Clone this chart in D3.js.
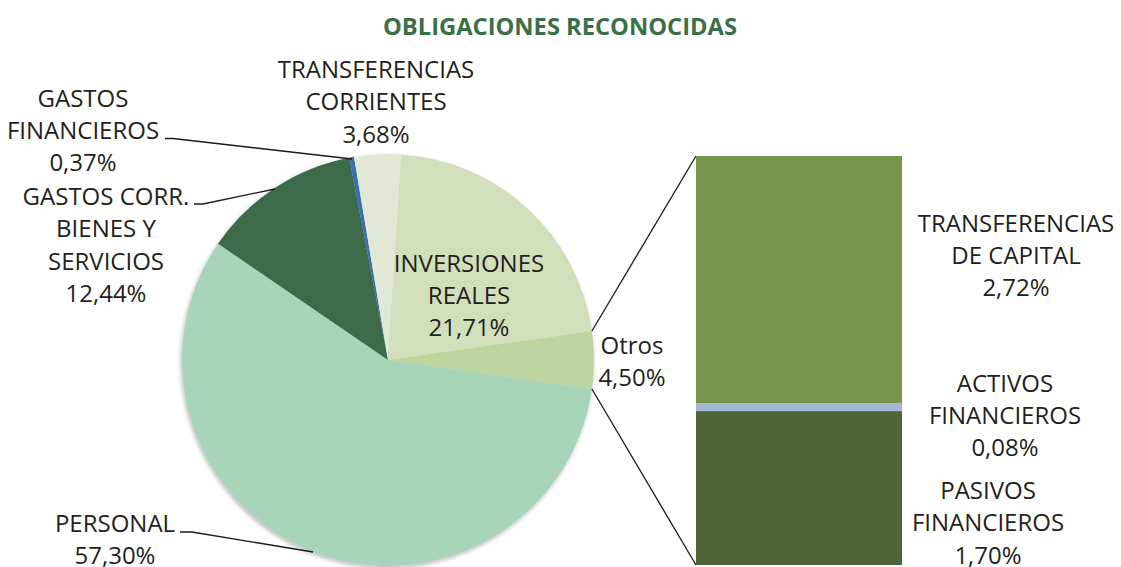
<!DOCTYPE html>
<html>
<head>
<meta charset="utf-8">
<script src="https://cdn.jsdelivr.net/npm/d3@7"></script>
<style>
  html, body { margin: 0; padding: 0; background: #ffffff; }
  svg { display: block; }
  text { font-family: "Open Sans", "Noto Sans", sans-serif; fill: #231f20; }
</style>
</head>
<body>
<script>
// ---- Data ----
const title = "OBLIGACIONES RECONOCIDAS";

// Pie slices, in clockwise order starting with the "Otros" slice
const pieCategories = ["Otros", "PERSONAL", "GASTOS CORR. BIENES Y SERVICIOS", "GASTOS FINANCIEROS", "TRANSFERENCIAS CORRIENTES", "INVERSIONES REALES"];
const pieValues = [4.50, 57.30, 12.44, 0.37, 3.68, 21.71];
const pieLabelLines = [["Otros"], ["PERSONAL"], ["GASTOS CORR.", "BIENES Y", "SERVICIOS"], ["GASTOS", "FINANCIEROS"], ["TRANSFERENCIAS", "CORRIENTES"], ["INVERSIONES", "REALES"]];

// Secondary stacked bar (breakdown of "Otros"), top to bottom
const barCategories = ["TRANSFERENCIAS DE CAPITAL", "ACTIVOS FINANCIEROS", "PASIVOS FINANCIEROS"];
const barValues = [2.72, 0.08, 1.70];
const barLabelLines = [["TRANSFERENCIAS", "DE CAPITAL"], ["ACTIVOS", "FINANCIEROS"], ["PASIVOS", "FINANCIEROS"]];

// ---- Styles / layout ----
const pieColors = ["#bfd59f", "#a8d5ba", "#3c6b4a", "#3b6eae", "#e1e9d6", "#d1e0ba"];
const barColors = ["#76964b", "#a2b7d4", "#4e6337"];

const W = 1121, H = 567;
const cx = 388, cy = 360, R = 206;
const barX0 = 696, barX1 = 902, barTop = 156, barBottom = 565;
const fontSize = 24, lineH = 32.3;

// label anchor (center x, cap-center y of first line) for each pie slice
const pieLabelPos = [
  {x: 632, y: 345.5},
  {x: 115, y: 523},
  {x: 106, y: 196.5},
  {x: 83, y: 98},
  {x: 376, y: 69.5},
  {x: 469, y: 263}
];
const leaders = {
  1: {start: [180, 532], elbow: [192, 532], end: [313, 552]},
  2: {start: [194, 204], elbow: [203, 204], end: [275, 189]},
  3: {start: [165, 138.5], elbow: [173, 138.5], end: [352, 159]}
};
const barLabelPos = [{x: 1016, y: 223}, {x: 1005, y: 383}, {x: 988, y: 490.5}];

const fmt = v => d3.format(".2f")(v).replace(".", ",") + "%";

const svg = d3.select("body").append("svg").attr("width", W).attr("height", H);

const defs = svg.append("defs");
const f = defs.append("filter").attr("id", "shadow").attr("x", "-10%").attr("y", "-10%").attr("width", "120%").attr("height", "120%");
f.append("feDropShadow").attr("dx", -1).attr("dy", 2).attr("stdDeviation", 2.2)
  .attr("flood-color", "#000").attr("flood-opacity", 0.28);

// Title
svg.append("text")
  .attr("x", 560).attr("y", 26.5 + 0.357 * 23.5)
  .attr("text-anchor", "middle")
  .attr("textLength", 354).attr("lengthAdjust", "spacingAndGlyphs")
  .style("font-size", "23.5px").style("font-weight", "700").style("fill", "#3a7047")
  .text(title);

// Pie
const total = d3.sum(pieValues);
const otrosSpan = pieValues[0] / total * 2 * Math.PI;
const start = Math.PI / 2 - otrosSpan / 2;
const pie = d3.pie().sort(null).value(d => d).startAngle(start).endAngle(start + 2 * Math.PI);
const arcs = pie(pieValues);
const arc = d3.arc().innerRadius(0).outerRadius(R);

const g = svg.append("g").attr("transform", `translate(${cx},${cy})`);
g.append("g").attr("filter", "url(#shadow)")
  .selectAll("path").data(arcs).join("path")
  .attr("d", arc)
  .attr("fill", (d, i) => pieColors[i]);

// Connector lines from "Otros" slice to bar
const otros = arcs[0];
const pt = a => [cx + R * Math.sin(a), cy - R * Math.cos(a)];
const pA = pt(otros.startAngle), pB = pt(otros.endAngle);
svg.append("line").attr("x1", pA[0]).attr("y1", pA[1]).attr("x2", barX0).attr("y2", barTop)
  .attr("stroke", "#1a1a1a").attr("stroke-width", 1.3);
svg.append("line").attr("x1", pB[0]).attr("y1", pB[1]).attr("x2", barX0).attr("y2", barBottom)
  .attr("stroke", "#1a1a1a").attr("stroke-width", 1.3);

// Stacked bar
const barTotal = d3.sum(barValues);
const y = d3.scaleLinear().domain([0, barTotal]).range([barTop, barBottom]);
let acc = 0;
const stacks = barValues.map(v => { const s = {y0: acc, y1: acc + v}; acc += v; return s; });
svg.append("g").selectAll("rect").data(stacks).join("rect")
  .attr("x", barX0).attr("width", barX1 - barX0)
  .attr("y", d => y(d.y0)).attr("height", d => Math.max(8, y(d.y1) - y(d.y0)))
  .attr("fill", (d, i) => barColors[i]);
{
  const d = stacks[1];
  svg.append("rect").attr("x", barX0).attr("width", barX1 - barX0)
    .attr("y", y(d.y0)).attr("height", Math.max(8, y(d.y1) - y(d.y0)))
    .attr("fill", barColors[1]);
}

// Leader lines
Object.keys(leaders).forEach(k => {
  const L = leaders[k];
  svg.append("polyline")
    .attr("points", [L.start, L.elbow, L.end].map(p => p.join(",")).join(" "))
    .attr("fill", "none").attr("stroke", "#1a1a1a").attr("stroke-width", 1.3);
});

// Labels
function multiLabel(lines, pos) {
  const t = svg.append("text").attr("text-anchor", "middle").style("font-size", fontSize + "px");
  lines.forEach((ln, i) => {
    t.append("tspan").attr("x", pos.x).attr("y", pos.y + 0.357 * fontSize + i * lineH).text(ln);
  });
}
pieLabelLines.forEach((lines, i) => multiLabel(lines.concat([fmt(pieValues[i])]), pieLabelPos[i]));
barLabelLines.forEach((lines, i) => multiLabel(lines.concat([fmt(barValues[i])]), barLabelPos[i]));
</script>
</body>
</html>
